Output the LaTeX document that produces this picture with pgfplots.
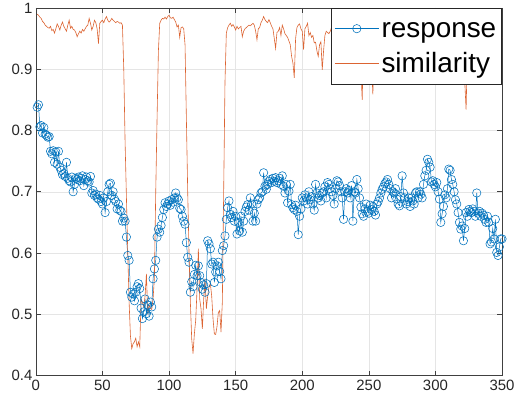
\documentclass[border=0pt]{standalone}
\usepackage{fontspec}
\setmainfont{Liberation Sans}
\usepackage{pgfplots}
\pgfplotsset{compat=1.18}
\definecolor{mblue}{HTML}{0072BD}
\definecolor{morange}{RGB}{220,100,50}
\definecolor{maxis}{HTML}{404040}
\begin{document}
\begin{tikzpicture}
\useasboundingbox (-36pt,-26pt) rectangle (481pt,377pt);
\begin{axis}[
  at={(0pt,0pt)}, anchor=south west,
  scale only axis, width=468pt, height=369pt,
  xmin=0, xmax=350, ymin=0.4, ymax=1,
  xtick={0,50,100,150,200,250,300,350},
  ytick={0.4,0.5,0.6,0.7,0.8,0.9,1},
  /pgf/number format/assume math mode=true,
  yticklabel style={/pgf/number format/fixed,/pgf/number format/precision=1},
  tick label style={font=\fontsize{15}{18}\selectfont, text=black!85},
  xticklabel style={yshift=-1pt},
  tick align=inside, major tick length=5pt,
  tick style={maxis, line width=0.6pt},
  axis line style={maxis, line width=0.6pt},
  grid=major, grid style={black!10, line width=0.5pt},
  legend cell align=left,
  legend style={at={(1,1)}, anchor=north east, draw=black!85, line width=0.6pt,
    fill=white, font=\fontsize{28}{30}\selectfont, inner xsep=3pt, inner ysep=3pt,
    nodes={inner xsep=2.5pt, inner ysep=3pt, text height=23pt, text depth=6pt}},
  legend image code/.code={\draw[mark repeat=2,mark phase=2,#1] plot coordinates {(0pt,0pt) (22pt,0pt) (44pt,0pt)};},
]
\addplot[mblue, line width=0.5pt, mark=o, mark size=4.2pt, mark options={line width=0.55pt}] coordinates {
(1,0.838)(2,0.842)(3,0.806)(4,0.808)(5,0.796)(6,0.805)(7,0.794)(8,0.792)(9,0.789)(10,0.790)
(11,0.766)(12,0.762)(13,0.767)(14,0.748)(15,0.765)(16,0.745)(17,0.766)(18,0.740)(19,0.735)(20,0.728)
(21,0.730)(22,0.725)(23,0.748)(24,0.722)(25,0.718)(26,0.716)(27,0.724)(28,0.700)(29,0.712)(30,0.722)
(31,0.720)(32,0.724)(33,0.718)(34,0.722)(35,0.726)(36,0.710)(37,0.720)(38,0.724)(39,0.718)(40,0.716)
(41,0.725)(42,0.698)(43,0.702)(44,0.694)(45,0.696)(46,0.690)(47,0.688)(48,0.694)(49,0.684)(50,0.680)
(51,0.690)(52,0.666)(53,0.684)(54,0.700)(55,0.712)(56,0.714)(57,0.694)(58,0.700)(59,0.688)(60,0.684)
(61,0.672)(62,0.680)(63,0.670)(64,0.668)(65,0.652)(66,0.657)(67,0.652)(68,0.626)(69,0.596)(70,0.588)
(71,0.536)(72,0.528)(73,0.533)(74,0.522)(75,0.536)(76,0.545)(77,0.550)(78,0.542)(79,0.510)(80,0.493)
(81,0.504)(82,0.525)(83,0.501)(84,0.515)(85,0.497)(86,0.520)(87,0.512)(88,0.558)(89,0.574)(90,0.588)
(91,0.626)(92,0.639)(93,0.634)(94,0.645)(95,0.658)(96,0.671)(97,0.682)(98,0.676)(99,0.680)(100,0.685)
(101,0.678)(102,0.687)(103,0.683)(104,0.690)(105,0.698)(106,0.690)(107,0.687)(108,0.673)(109,0.671)(110,0.660)
(111,0.652)(112,0.647)(113,0.617)(114,0.593)(115,0.585)(116,0.536)(117,0.553)(118,0.545)(119,0.565)(120,0.580)
(121,0.563)(122,0.579)(123,0.563)(124,0.552)(125,0.541)(126,0.548)(127,0.536)(128,0.550)(129,0.620)(130,0.615)
(131,0.607)(132,0.582)(133,0.585)(134,0.552)(135,0.569)(136,0.579)(137,0.585)(138,0.570)(139,0.558)(140,0.604)
(141,0.612)(142,0.628)(143,0.655)(144,0.674)(145,0.685)(146,0.663)(147,0.658)(148,0.668)(149,0.652)(150,0.660)
(151,0.631)(152,0.650)(153,0.636)(154,0.660)(155,0.634)(156,0.652)(157,0.668)(158,0.675)(159,0.679)(160,0.670)
(161,0.690)(162,0.680)(163,0.652)(164,0.665)(165,0.652)(166,0.680)(167,0.687)(168,0.690)(169,0.698)(170,0.700)
(171,0.731)(172,0.709)(173,0.704)(174,0.712)(175,0.717)(176,0.720)(177,0.715)(178,0.722)(179,0.717)(180,0.723)
(181,0.715)(182,0.718)(183,0.722)(184,0.712)(185,0.726)(186,0.709)(187,0.698)(188,0.712)(189,0.682)(190,0.701)
(191,0.712)(192,0.679)(193,0.674)(194,0.671)(195,0.678)(196,0.668)(197,0.630)(198,0.660)(199,0.672)(200,0.690)
(201,0.685)(202,0.695)(203,0.690)(204,0.680)(205,0.700)(206,0.687)(207,0.692)(208,0.680)(209,0.670)(210,0.712)
(211,0.698)(212,0.690)(213,0.694)(214,0.685)(215,0.698)(216,0.700)(217,0.708)(218,0.690)(219,0.715)(220,0.712)
(221,0.705)(222,0.700)(223,0.694)(224,0.680)(225,0.705)(226,0.718)(227,0.716)(228,0.710)(229,0.700)(230,0.690)
(231,0.655)(232,0.700)(233,0.705)(234,0.698)(235,0.702)(236,0.690)(237,0.710)(238,0.652)(239,0.700)(240,0.698)
(241,0.720)(242,0.705)(243,0.690)(244,0.675)(245,0.664)(246,0.660)(247,0.672)(248,0.680)(249,0.668)(250,0.665)
(251,0.678)(252,0.671)(253,0.676)(254,0.668)(255,0.662)(256,0.680)(257,0.684)(258,0.690)(259,0.698)(260,0.704)
(261,0.708)(262,0.713)(263,0.716)(264,0.720)(265,0.712)(266,0.705)(267,0.690)(268,0.700)(269,0.698)(270,0.705)
(271,0.688)(272,0.680)(273,0.677)(274,0.692)(275,0.726)(276,0.698)(277,0.690)(278,0.680)(279,0.684)(280,0.690)
(281,0.676)(282,0.690)(283,0.685)(284,0.680)(285,0.698)(286,0.700)(287,0.690)(288,0.700)(289,0.696)(290,0.690)
(291,0.712)(292,0.726)(293,0.735)(294,0.753)(295,0.748)(296,0.740)(297,0.716)(298,0.718)(299,0.712)(300,0.708)
(301,0.715)(302,0.700)(303,0.688)(304,0.650)(305,0.664)(306,0.676)(307,0.695)(308,0.690)(309,0.705)(310,0.737)
(311,0.735)(312,0.720)(313,0.712)(314,0.700)(315,0.687)(316,0.680)(317,0.666)(318,0.650)(319,0.639)(320,0.644)
(321,0.620)(322,0.640)(323,0.666)(324,0.660)(325,0.671)(326,0.668)(327,0.666)(328,0.672)(329,0.668)(330,0.660)
(331,0.698)(332,0.665)(333,0.668)(334,0.660)(335,0.665)(336,0.662)(337,0.655)(338,0.650)(339,0.660)(340,0.650)
(341,0.615)(342,0.618)(343,0.640)(344,0.623)(345,0.655)(346,0.601)(347,0.596)(348,0.610)(349,0.623)(350,0.623)
};
\addlegendentry{response}
\addplot[morange, line width=0.6pt] coordinates {
(1,0.990)(2,0.988)(3,0.985)(4,0.983)(5,0.978)(6,0.976)(7,0.972)(8,0.970)(9,0.968)(10,0.967)
(11,0.970)(12,0.963)(13,0.965)(14,0.959)(15,0.966)(16,0.974)(17,0.970)(18,0.964)(19,0.972)(20,0.977)
(21,0.970)(22,0.966)(23,0.962)(24,0.972)(25,0.980)(26,0.967)(27,0.970)(28,0.965)(29,0.964)(30,0.960)
(31,0.953)(32,0.958)(33,0.962)(34,0.959)(35,0.965)(36,0.962)(37,0.966)(38,0.970)(39,0.972)(40,0.983)
(41,0.975)(42,0.964)(43,0.970)(44,0.980)(45,0.976)(46,0.966)(47,0.942)(48,0.975)(49,0.978)(50,0.980)
(51,0.976)(52,0.982)(53,0.986)(54,0.980)(55,0.977)(56,0.979)(57,0.983)(58,0.980)(59,0.978)(60,0.976)
(61,0.978)(62,0.977)(63,0.975)(64,0.976)(65,0.972)(66,0.900)(67,0.780)(68,0.690)(69,0.600)(70,0.520)
(71,0.465)(72,0.444)(73,0.452)(74,0.455)(75,0.461)(76,0.447)(77,0.455)(78,0.447)(79,0.525)(80,0.519)
(81,0.512)(82,0.530)(83,0.566)(84,0.500)(85,0.515)(86,0.510)(87,0.508)(88,0.525)(89,0.560)(90,0.700)
(91,0.820)(92,0.930)(93,0.975)(94,0.980)(95,0.983)(96,0.982)(97,0.985)(98,0.982)(99,0.986)(100,0.988)
(101,0.984)(102,0.983)(103,0.985)(104,0.981)(105,0.977)(106,0.969)(107,0.972)(108,0.952)(109,0.968)(110,0.969)
(111,0.966)(112,0.940)(113,0.820)(114,0.700)(115,0.600)(116,0.520)(117,0.460)(118,0.436)(119,0.468)(120,0.490)
(121,0.540)(122,0.607)(123,0.525)(124,0.509)(125,0.476)(126,0.525)(127,0.558)(128,0.509)(129,0.530)(130,0.545)
(131,0.550)(132,0.530)(133,0.493)(134,0.468)(135,0.467)(136,0.480)(137,0.503)(138,0.506)(139,0.471)(140,0.520)
(141,0.700)(142,0.880)(143,0.959)(144,0.968)(145,0.972)(146,0.975)(147,0.970)(148,0.973)(149,0.969)(150,0.964)
(151,0.970)(152,0.966)(153,0.968)(154,0.970)(155,0.953)(156,0.962)(157,0.966)(158,0.968)(159,0.970)(160,0.972)
(161,0.971)(162,0.973)(163,0.975)(164,0.972)(165,0.962)(166,0.948)(167,0.966)(168,0.968)(169,0.976)(170,0.980)
(171,0.986)(172,0.981)(173,0.978)(174,0.976)(175,0.981)(176,0.976)(177,0.970)(178,0.966)(179,0.950)(180,0.934)
(181,0.960)(182,0.962)(183,0.968)(184,0.955)(185,0.972)(186,0.966)(187,0.958)(188,0.955)(189,0.952)(190,0.946)
(191,0.940)(192,0.921)(193,0.910)(194,0.886)(195,0.950)(196,0.968)(197,0.972)(198,0.974)(199,0.966)(200,0.962)
(201,0.932)(202,0.966)(203,0.970)(204,0.975)(205,0.955)(206,0.960)(207,0.952)(208,0.955)(209,0.943)(210,0.944)
(211,0.930)(212,0.921)(213,0.940)(214,0.945)(215,0.899)(216,0.930)(217,0.955)(218,0.962)(219,0.960)(220,0.958)
(221,0.962)(222,0.968)(223,0.972)(224,0.960)(225,0.955)(226,0.968)(227,0.940)(228,0.922)(229,0.875)(230,0.930)
(231,0.960)(232,0.965)(233,0.958)(234,0.962)(235,0.970)(236,0.966)(237,0.960)(238,0.955)(239,0.962)(240,0.958)
(241,0.960)(242,0.955)(243,0.940)(244,0.900)(245,0.850)(246,0.945)(247,0.955)(248,0.962)(249,0.958)(250,0.950)
(251,0.948)(252,0.910)(253,0.859)(254,0.935)(255,0.955)(256,0.960)(257,0.966)(258,0.970)(259,0.968)(260,0.972)
(261,0.975)(262,0.970)(263,0.966)(264,0.972)(265,0.968)(266,0.960)(267,0.965)(268,0.970)(269,0.968)(270,0.966)
(271,0.962)(272,0.960)(273,0.965)(274,0.970)(275,0.975)(276,0.968)(277,0.962)(278,0.958)(279,0.960)(280,0.955)
(281,0.962)(282,0.965)(283,0.960)(284,0.958)(285,0.962)(286,0.968)(287,0.970)(288,0.972)(289,0.975)(290,0.978)
(291,0.980)(292,0.982)(293,0.985)(294,0.984)(295,0.980)(296,0.976)(297,0.972)(298,0.968)(299,0.962)(300,0.965)
(301,0.960)(302,0.955)(303,0.950)(304,0.958)(305,0.962)(306,0.966)(307,0.970)(308,0.965)(309,0.960)(310,0.958)
(311,0.962)(312,0.966)(313,0.970)(314,0.965)(315,0.960)(316,0.955)(317,0.950)(318,0.948)(319,0.940)(320,0.935)
(321,0.920)(322,0.880)(323,0.834)(324,0.930)(325,0.955)(326,0.960)(327,0.958)(328,0.962)(329,0.965)(330,0.960)
(331,0.955)(332,0.958)(333,0.962)(334,0.965)(335,0.960)(336,0.955)(337,0.950)(338,0.955)(339,0.960)(340,0.958)
(341,0.955)(342,0.950)(343,0.948)(344,0.952)(345,0.955)(346,0.958)(347,0.955)(348,0.950)(349,0.948)(350,0.952)
};
\addlegendentry{similarity}
\end{axis}
\end{tikzpicture}
\end{document}
